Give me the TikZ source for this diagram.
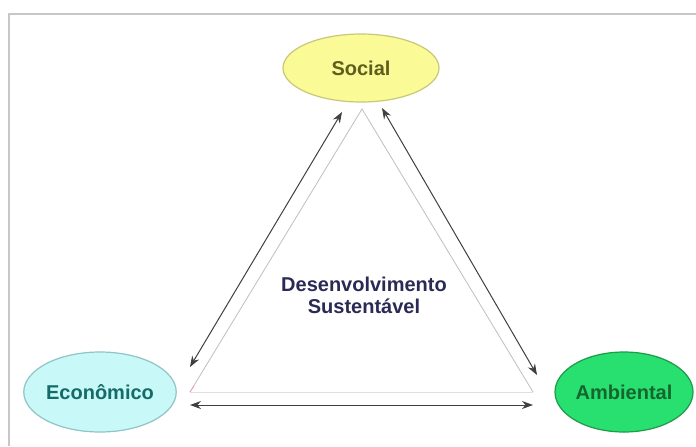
\documentclass[tikz,border=0pt]{standalone}
\usepackage{fontspec}
\setmainfont{Liberation Sans}
\usetikzlibrary{shapes.geometric,arrows.meta}
\definecolor{socfill}{HTML}{FAFA96}
\definecolor{socdraw}{HTML}{C8C878}
\definecolor{soctext}{HTML}{5E5E1E}
\definecolor{ecofill}{HTML}{C8F8F8}
\definecolor{ecodraw}{HTML}{90C4C8}
\definecolor{ecotext}{HTML}{156A6A}
\definecolor{ambfill}{HTML}{28E070}
\definecolor{ambdraw}{HTML}{1E9A4A}
\definecolor{ambtext}{HTML}{15652E}
\definecolor{centtext}{HTML}{2A2A55}
\begin{document}
\begin{tikzpicture}[x=0.5pt,y=-0.5pt,
  pillar/.style={ellipse,line width=0.6pt,inner sep=0pt,
    font=\fontsize{10}{12}\selectfont\bfseries},
  rel/.style={{Stealth[length=5.5pt,width=4pt]}-{Stealth[length=5.5pt,width=4pt]},line width=0.5pt,draw=black!75},
  tri/.style={draw=black!25,line width=0.4pt}]
\useasboundingbox[fill=white] (0,0) rectangle (696,446);
\draw[black!22,line width=1pt] (9,446) -- (9,14) -- (696,14);
\node[pillar,fill=socfill,draw=socdraw,text=soctext,minimum width=78pt,minimum height=34pt] (soc) at (361,68) {Social};
\node[pillar,fill=ecofill,draw=ecodraw,text=ecotext,minimum width=75pt,minimum height=40pt] (eco) at (100,392) {Econômico};
\node[pillar,fill=ambfill,draw=ambdraw,text=ambtext,minimum width=69pt,minimum height=40pt] (amb) at (624,392) {Ambiental};
\coordinate (apex) at (362,109);
\coordinate (bl) at (190,392);
\coordinate (br) at (533,392);
\draw[tri] (bl) -- (apex) -- (br);
\draw[draw=black!12,line width=0.4pt] (bl) -- (br);
\draw[draw=magenta!40,line width=0.4pt] (bl) -- ++(4,-6);
\coordinate (l1) at (342,112);
\coordinate (l2) at (190,367);
\coordinate (r1) at (382,108);
\coordinate (r2) at (537,375);
\coordinate (b1) at (190,405);
\coordinate (b2) at (533,405);
\draw[rel] (l2) -- (l1);
\draw[rel] (r1) -- (r2);
\draw[rel] (b1) -- (b2);
\node[font=\fontsize{10}{11}\selectfont\bfseries,text=centtext,align=center] (ds) at (364,295) {Desenvolvimento\\Sustentável};
\end{tikzpicture}
\end{document}
